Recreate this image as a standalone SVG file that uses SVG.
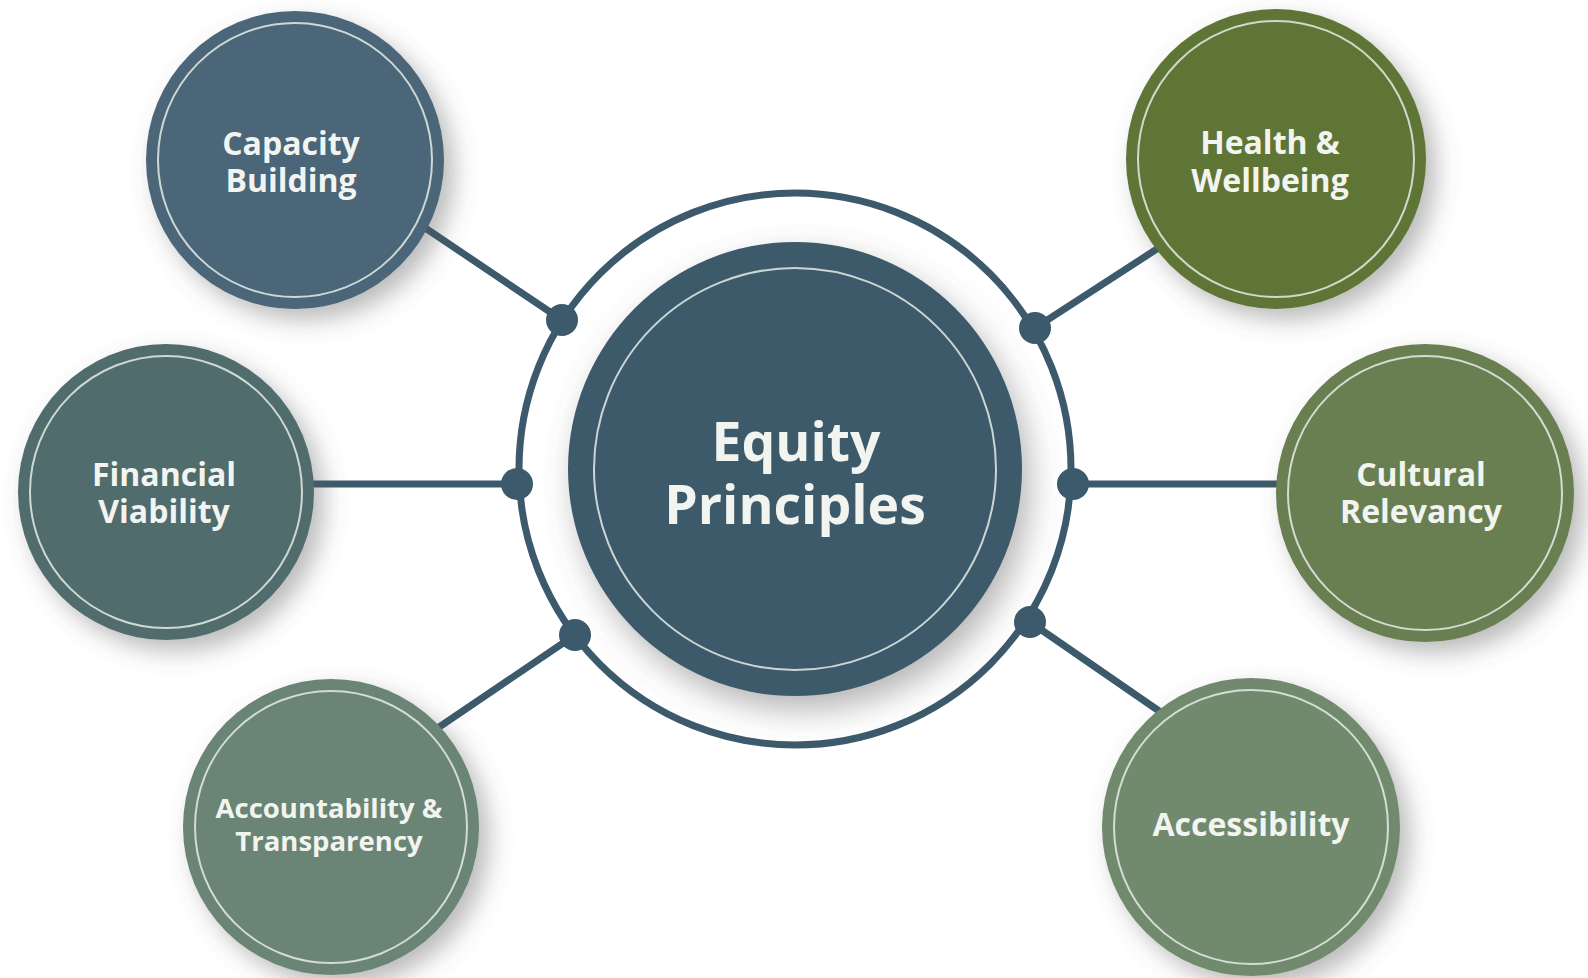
<svg xmlns="http://www.w3.org/2000/svg" width="1588" height="978" viewBox="0 0 1588 978">
  <defs>
    <filter id="shadow" x="-30%" y="-30%" width="160%" height="160%">
      <feDropShadow dx="10" dy="11" stdDeviation="12" flood-color="#5a5a5a" flood-opacity="0.42"/>
    </filter>
    <filter id="hubShadow" x="-30%" y="-30%" width="160%" height="160%">
      <feDropShadow dx="8" dy="14" stdDeviation="16" flood-color="#5a5a5a" flood-opacity="0.45"/>
    </filter>
  </defs>
  <style>
    .link { stroke: #3c5a6b; stroke-width: 7; stroke-linecap: round; fill: none; }
    .dot { fill: #3c5a6b; }
    .ring { fill: none; stroke: #3c5a6b; stroke-width: 7; }
    .inner { fill: none; stroke: #e4ece6; stroke-width: 2; opacity: 0.85; }
    .label { font-family: "Open Sans", "Noto Sans", "Liberation Sans", sans-serif; font-weight: 700; fill: #f2f4f0; text-anchor: middle; }
    .node-label { font-size: 32px; }
    .small-label { font-size: 27.5px; }
    .hub-label { font-size: 53.5px; }
  </style>

  <rect width="1588" height="978" fill="#ffffff"/>

  <!-- outer orbit and spokes -->
  <g id="connectors">
    <circle class="ring" cx="795" cy="469" r="276"/>
    <line class="link" x1="562" y1="320" x2="400" y2="211"/>
    <line class="link" x1="517" y1="484" x2="290" y2="484"/>
    <line class="link" x1="575" y1="635" x2="420" y2="740"/>
    <line class="link" x1="1035" y1="328" x2="1180" y2="234"/>
    <line class="link" x1="1073" y1="484" x2="1300" y2="484"/>
    <line class="link" x1="1030" y1="622" x2="1175" y2="722"/>
    <circle class="dot" cx="562" cy="320" r="16"/>
    <circle class="dot" cx="517" cy="484" r="16"/>
    <circle class="dot" cx="575" cy="635" r="16"/>
    <circle class="dot" cx="1035" cy="328" r="16"/>
    <circle class="dot" cx="1073" cy="484" r="16"/>
    <circle class="dot" cx="1030" cy="622" r="16"/>
  </g>

  <g id="equity-principles">
    <circle cx="795" cy="469" r="227" fill="#3e5a6b" filter="url(#hubShadow)"/>
    <circle class="inner" cx="795" cy="469" r="201"/>
    <text class="label hub-label"><tspan x="796" y="461">Equity</tspan><tspan x="795" y="524">Principles</tspan></text>
  </g>

  <g id="capacity-building">
    <circle cx="295" cy="160" r="149" fill="#4b6678" filter="url(#shadow)"/>
    <circle class="inner" cx="295" cy="160" r="137"/>
    <text class="label node-label"><tspan x="291" y="155">Capacity</tspan><tspan x="291" y="192">Building</tspan></text>
  </g>

  <g id="financial-viability">
    <circle cx="166" cy="492" r="148" fill="#516c6d" filter="url(#shadow)"/>
    <circle class="inner" cx="166" cy="492" r="136"/>
    <text class="label node-label"><tspan x="164" y="486">Financial</tspan><tspan x="164" y="523">Viability</tspan></text>
  </g>

  <g id="accountability-transparency">
    <circle cx="331" cy="827" r="148" fill="#6a8474" filter="url(#shadow)"/>
    <circle class="inner" cx="331" cy="827" r="136"/>
    <text class="label small-label"><tspan x="329" y="818">Accountability &amp;</tspan><tspan x="329" y="851">Transparency</tspan></text>
  </g>

  <g id="health-wellbeing">
    <circle cx="1276" cy="159" r="150" fill="#5f7536" filter="url(#shadow)"/>
    <circle class="inner" cx="1276" cy="159" r="138"/>
    <text class="label node-label"><tspan x="1270" y="154">Health &amp;</tspan><tspan x="1270" y="192">Wellbeing</tspan></text>
  </g>

  <g id="cultural-relevancy">
    <circle cx="1425" cy="493" r="149" fill="#6b7f51" filter="url(#shadow)"/>
    <circle class="inner" cx="1425" cy="493" r="137"/>
    <text class="label node-label"><tspan x="1421" y="486">Cultural</tspan><tspan x="1421" y="523">Relevancy</tspan></text>
  </g>

  <g id="accessibility">
    <circle cx="1251" cy="827" r="149" fill="#718a6d" filter="url(#shadow)"/>
    <circle class="inner" cx="1251" cy="827" r="137"/>
    <text class="label node-label" x="1251" y="836">Accessibility</text>
  </g>
</svg>
